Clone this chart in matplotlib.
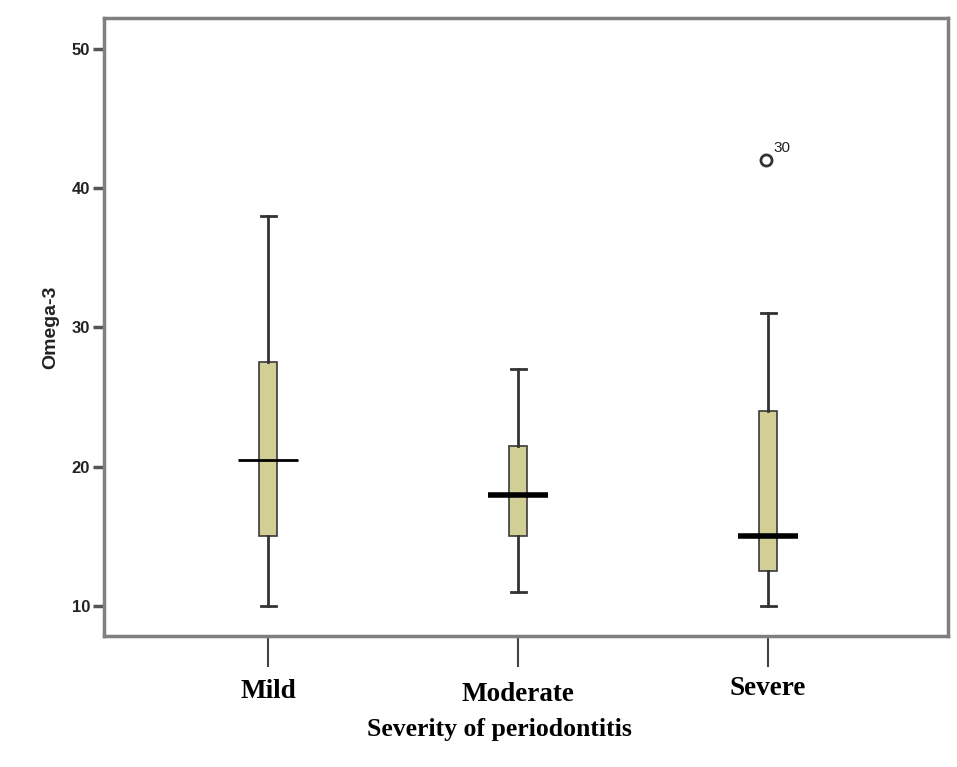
import numpy as np
import matplotlib.pyplot as plt
import matplotlib.transforms as mtransforms

# Box summaries (SPSS style boxplot)
groups = ['Mild', 'Moderate', 'Severe']
whisker_low = [10, 11, 10]
q1 = [15, 15, 12.5]
median = [20.5, 18, 15]
q3 = [27.5, 21.5, 24]
whisker_high = [38, 27, 31]
outlier_vals = [[], [], [42]]
outlier_ids = [[], [], ['30']]

yticks = [10, 20, 30, 40, 50]

fig = plt.figure(figsize=(9.57, 7.67), dpi=100)
ax = fig.add_axes([0.1087, 0.1708, 0.8819, 0.8057])

stats = []
for i, g in enumerate(groups):
    stats.append(dict(label=g, whislo=whisker_low[i], q1=q1[i], med=median[i],
                      q3=q3[i], whishi=whisker_high[i], fliers=[]))

positions = [1, 2, 3]
bp = ax.bxp(stats, positions=positions, widths=0.07, patch_artist=True,
            showfliers=False,
            boxprops=dict(facecolor='#d2cf96', edgecolor='#3a3a3a', linewidth=1.2),
            whiskerprops=dict(color='#333333', linewidth=2),
            capprops=dict(color='#333333', linewidth=2),
            medianprops=dict(color='black', linewidth=4))

# median lines are wider than the box, the first one is thin
for i, ml in enumerate(bp['medians']):
    x = positions[i]
    ml.set_xdata([x - 0.12, x + 0.12])
    ml.set_zorder(5)
    if i == 0:
        ml.set_linewidth(2)
for c in bp['caps']:
    xd = c.get_xdata()
    mid = (xd[0] + xd[1]) / 2
    c.set_xdata([mid - 0.03, mid + 0.03])

# outliers with case labels
for i in range(len(groups)):
    for v, lab in zip(outlier_vals[i], outlier_ids[i]):
        ax.plot(positions[i] - 0.01, v, marker='o', markersize=8, markerfacecolor='none',
                markeredgecolor='#333333', markeredgewidth=2)
        ax.annotate(lab, (positions[i] - 0.01, v), xytext=(6, 6), textcoords='offset points',
                    fontsize=11, family='Liberation Sans', color='#222222')

ax.set_xlim(0.344, 3.72)
ax.set_ylim(7.85, 52.2)

ax.set_yticks(yticks)
ax.set_yticklabels([str(t) for t in yticks], family='Liberation Sans', fontsize=12,
                   fontweight='bold', color='#222222')
ax.tick_params(axis='y', direction='out', length=8, width=2.5, color='#555555', pad=2)

ax.set_xticks(positions)
ax.set_xticklabels(groups, family='Liberation Serif', fontsize=19.5, fontweight='bold')
ax.tick_params(axis='x', direction='out', length=22, width=1.5, color='#444444', pad=9)
offsets = [0, -3, 3]
for t, dy in zip(ax.get_xticklabels(), offsets):
    t.set_transform(t.get_transform() + mtransforms.ScaledTranslation(0, dy / 100, fig.dpi_scale_trans))

for s in ax.spines.values():
    s.set_color('#7f7f7f')
    s.set_linewidth(2.5)

ax.set_ylabel('Omega-3', family='Liberation Sans', fontsize=14, fontweight='bold',
              color='#222222', labelpad=9)
ax.set_xlabel('Severity of periodontitis', family='Liberation Serif', fontsize=18.5,
              fontweight='bold')
ax.xaxis.set_label_coords(0.469, -0.133)

fig.savefig('out.png', dpi=100)
